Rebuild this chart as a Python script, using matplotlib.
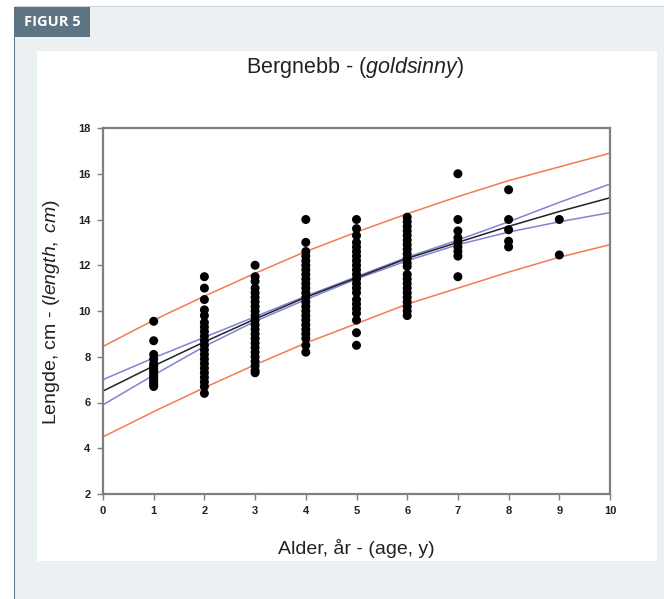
import matplotlib
matplotlib.use('Agg')
import matplotlib.pyplot as plt
from matplotlib.patches import Rectangle

plt.rcParams['font.family'] = ['Liberation Sans', 'DejaVu Sans']
plt.rcParams['mathtext.fontset'] = 'custom'
plt.rcParams['mathtext.rm'] = 'Liberation Sans'
plt.rcParams['mathtext.it'] = 'Liberation Sans:italic'

# lengde (cm) per alder (år)
ages = [1, 2, 3, 4, 5, 6, 7, 8, 9]
lengths = [
    [9.55, 8.7, 8.1, 7.9, 7.7, 7.6, 7.5, 7.4, 7.3, 7.2, 7.1, 7.0, 6.9, 6.8, 6.7],
    [11.5, 11.0, 10.5, 10.05, 9.8, 9.5, 9.3, 9.1, 8.9, 8.7, 8.5, 8.3, 8.1, 7.9,
     7.7, 7.5, 7.3, 7.1, 6.9, 6.7, 6.4],
    [12.0, 11.5, 11.3, 11.0, 10.8, 10.6, 10.4, 10.2, 10.0, 9.8, 9.6, 9.4, 9.2,
     9.0, 8.8, 8.6, 8.4, 8.2, 8.0, 7.8, 7.6, 7.4, 7.3],
    [14.0, 13.0, 12.6, 12.4, 12.2, 12.0, 11.8, 11.6, 11.4, 11.2, 11.0, 10.8,
     10.6, 10.4, 10.2, 10.0, 9.8, 9.6, 9.4, 9.2, 9.0, 8.8, 8.5, 8.2],
    [14.0, 13.6, 13.3, 13.0, 12.8, 12.6, 12.4, 12.2, 12.0, 11.8, 11.6, 11.4,
     11.2, 11.0, 10.8, 10.5, 10.3, 10.1, 9.9, 9.6, 9.05, 8.5],
    [14.1, 13.9, 13.7, 13.5, 13.3, 13.1, 12.9, 12.7, 12.5, 12.3, 12.1, 11.95,
     11.6, 11.4, 11.2, 11.0, 10.8, 10.6, 10.4, 10.2, 10.0, 9.8],
    [16.0, 14.0, 13.5, 13.2, 13.0, 12.8, 12.6, 12.4, 11.5],
    [15.3, 14.0, 13.55, 13.05, 12.8],
    [14.0, 12.45],
]

# tilpassede kurver, avlest ved alder 0..10
curve_x = [0, 1, 2, 3, 4, 5, 6, 7, 8, 9, 10]
fit = [6.5, 7.6, 8.65, 9.65, 10.6, 11.45, 12.3, 13.0, 13.7, 14.35, 14.95]
conf_hi = [7.0, 7.95, 8.85, 9.75, 10.65, 11.5, 12.35, 13.1, 13.9, 14.75, 15.55]
conf_lo = [5.9, 7.2, 8.45, 9.55, 10.5, 11.4, 12.2, 12.9, 13.45, 13.9, 14.3]
pred_hi = [8.45, 9.6, 10.65, 11.65, 12.6, 13.45, 14.25, 15.0, 15.7, 16.3, 16.9]
pred_lo = [4.5, 5.6, 6.65, 7.65, 8.6, 9.45, 10.3, 11.0, 11.7, 12.35, 12.9]

W, H = 664, 599
fig = plt.figure(figsize=(W / 100, H / 100), dpi=100)
fig.patch.set_facecolor('white')

# bakgrunnspanel og fane
fig.patches.append(Rectangle((15 / W, 0), 1 - 15 / W, 1 - 7 / H, transform=fig.transFigure,
                             facecolor='#ebf0f3', edgecolor='none', zorder=0))
fig.patches.append(Rectangle((13.5 / W, 0), 1.2 / W, 1 - 7 / H, transform=fig.transFigure,
                             facecolor='#5e7482', edgecolor='none', zorder=1))
fig.patches.append(Rectangle((15 / W, 1 - 7 / H), 1 - 15 / W, 1 / H, transform=fig.transFigure,
                             facecolor='#c9d3da', edgecolor='none', zorder=1))
fig.patches.append(Rectangle((15 / W, 1 - 37 / H), 75 / W, 30 / H, transform=fig.transFigure,
                             facecolor='#5e7482', edgecolor='none', zorder=2))
fig.patches.append(Rectangle((37 / W, 1 - 561 / H), 620 / W, 510 / H, transform=fig.transFigure,
                             facecolor='white', edgecolor='none', zorder=1))
fig.text(52.5 / W, 1 - 22 / H, 'FIGUR 5', color='white', fontsize=10.5, fontweight='bold',
         family=['Open Sans', 'DejaVu Sans'], ha='center', va='center', zorder=3)

ax = fig.add_axes([103 / W, 1 - 494 / H, 507 / W, 366 / H])
ax.set_zorder(5)
ax.set_facecolor('white')

for a, vals in zip(ages, lengths):
    ax.scatter([a] * len(vals), vals, s=42, color='black', edgecolors='none', zorder=3)

ax.plot(curve_x, pred_hi, color='#f47a55', lw=1.1, zorder=2)
ax.plot(curve_x, pred_lo, color='#f47a55', lw=1.1, zorder=2)
ax.plot(curve_x, conf_hi, color='#7f84d4', lw=1.1, zorder=2)
ax.plot(curve_x, conf_lo, color='#7f84d4', lw=1.1, zorder=2)
ax.plot(curve_x, fit, color='#222222', lw=1.1, zorder=2)

ax.set_xlim(0, 10)
ax.set_ylim(2, 18)
ax.set_xticks(range(0, 11))
ax.set_yticks(range(2, 19, 2))
for s in ax.spines.values():
    s.set_color('#7f7f7f')
    s.set_linewidth(1.6)
ax.tick_params(direction='out', length=4, width=1, color='#7f7f7f',
               labelsize=8, labelcolor='#222222', pad=5)
for lab in ax.get_xticklabels() + ax.get_yticklabels():
    lab.set_fontweight('bold')

fig.text(355 / W, 1 - 68 / H, r'Bergnebb - ($\it{goldsinny}$)', fontsize=15.5,
         ha='center', va='center', color='#222222', zorder=6)
fig.text(356 / W, 1 - 548 / H, 'Alder, år - (age, y)', fontsize=14,
         ha='center', va='center', color='#222222', zorder=6)
fig.text(52 / W, 1 - 312 / H, r'Lengde, cm - ($\it{length,\ cm}$)', fontsize=14,
         ha='center', va='center', rotation=90, color='#222222', zorder=6)

fig.savefig('out.png', dpi=100, facecolor='white')
